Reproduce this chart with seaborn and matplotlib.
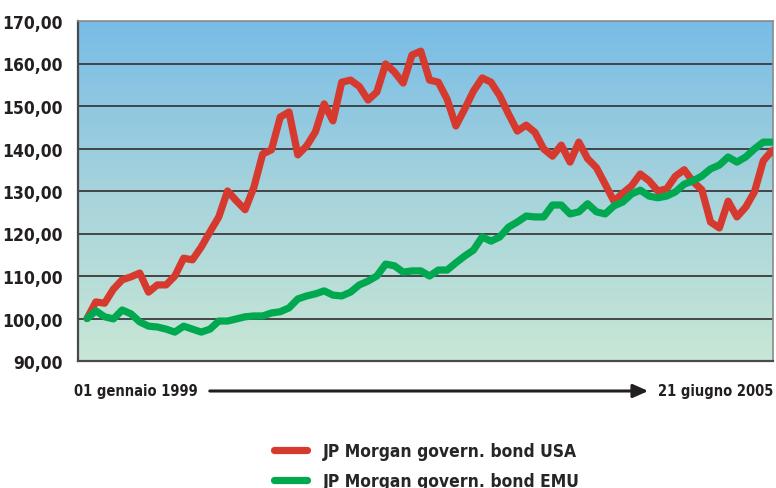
import numpy as np
import pandas as pd
import matplotlib.pyplot as plt
import seaborn as sns
from matplotlib import font_manager
from matplotlib.colors import LinearSegmentedColormap

# valori indice (base 100 = 01/01/1999), uno al mese
usa = [100.0, 103.9, 103.6, 106.9, 109.1, 109.8, 110.7, 106.2, 107.9, 107.9,
       110.0, 114.2, 113.8, 116.8, 120.4, 123.9, 130.0, 127.7, 125.6, 130.9,
       138.7, 139.7, 147.4, 148.6, 138.5, 140.6, 143.9, 150.5, 146.5, 155.6,
       156.1, 154.6, 151.4, 153.3, 159.9, 158.0, 155.4, 162.0, 162.9, 156.1,
       155.6, 151.6, 145.3, 149.3, 153.5, 156.6, 155.6, 152.4, 148.1, 144.1,
       145.5, 143.8, 139.9, 138.2, 140.8, 136.8, 141.5, 137.6, 135.5, 131.6,
       127.6, 129.5, 131.2, 134.0, 132.4, 130.0, 130.5, 133.5, 135.0, 132.2,
       130.3, 122.7, 121.3, 127.6, 123.9, 126.2, 129.8, 137.1, 139.5]
emu = [100.0, 101.8, 100.4, 99.9, 102.0, 101.1, 99.2, 98.2, 98.0, 97.5,
       96.8, 98.2, 97.5, 96.8, 97.5, 99.4, 99.4, 99.9, 100.4, 100.6,
       100.6, 101.3, 101.6, 102.5, 104.6, 105.3, 105.8, 106.5, 105.5, 105.3,
       106.2, 107.9, 108.8, 110.0, 112.8, 112.4, 110.9, 111.2, 111.2, 110.0,
       111.4, 111.4, 113.1, 114.7, 116.1, 119.2, 118.2, 119.2, 121.5, 122.7,
       124.1, 123.9, 123.9, 126.7, 126.7, 124.6, 125.1, 127.0, 125.1, 124.6,
       126.5, 127.4, 129.3, 130.2, 128.8, 128.4, 128.8, 129.8, 131.6, 132.4,
       133.5, 135.2, 136.1, 138.0, 136.8, 138.0, 139.9, 141.5, 141.5]
serie = ["JP Morgan govern. bond USA", "JP Morgan govern. bond EMU"]
colori = ["#d63a2e", "#00a94f"]
yticks = [90, 100, 110, 120, 130, 140, 150, 160, 170]
data_inizio = "01 gennaio 1999"
data_fine = "21 giugno 2005"

mesi = np.arange(len(usa))
df = pd.DataFrame({
    "mese": np.concatenate([mesi, mesi]),
    "valore": usa + emu,
    "serie": [serie[0]] * len(usa) + [serie[1]] * len(emu),
})

sns.set_style("white")

# font stretto se c'e', altrimenti DejaVu piu' piccolo
narrow = [f for f in font_manager.fontManager.ttflist
          if f.stretch in ("condensed", "semi-condensed", "extra-condensed")
          or "Narrow" in f.name or "Condensed" in f.name]
if narrow:
    plt.rcParams['font.family'] = [narrow[0].name, 'DejaVu Sans']
    plt.rcParams['font.stretch'] = 'condensed'
    k = 1.0
else:
    plt.rcParams['font.family'] = ['DejaVu Sans']
    k = 0.82
fs_tick = 12.5 * k
fs_date = 10.5 * k
fs_leg = 12.5 * k

fig = plt.figure(figsize=(7.76, 4.89), dpi=100)
ax = fig.add_axes([78 / 776, 1 - 362 / 489, 695 / 776, 340 / 489])

# sfondo sfumato azzurro -> verde chiaro
cmap = LinearSegmentedColormap.from_list("sfondo", ["#c8e7d5", "#a6d3dc", "#78bce6"])
grad = np.linspace(0, 1, 256).reshape(-1, 1)
ax.imshow(grad, aspect="auto", cmap=cmap, origin="lower",
          extent=[-1.03, 78.11, 90, 170], zorder=0)

sns.lineplot(data=df, x="mese", y="valore", hue="serie", palette=colori,
             linewidth=5.2, ax=ax, zorder=3, legend=True)
for l in ax.get_lines():
    l.set_solid_capstyle("round")
    l.set_solid_joinstyle("round")

ax.set_xlim(-1.03, 78.11)
ax.set_ylim(90, 170)
ax.set_yticks(yticks)
ax.set_yticklabels([f"{v:.2f}".replace(".", ",") for v in yticks])
ax.set_xticks([])
ax.set_xlabel("")
ax.set_ylabel("")
ax.tick_params(axis="y", length=0, pad=11, labelsize=fs_tick, colors="#231f20")
for lab in ax.get_yticklabels():
    lab.set_fontweight("bold")
ax.grid(False)
for v in yticks[1:-1]:
    ax.axhline(v, color="#3a3a3a", linewidth=1.3, zorder=1)
for s in ["left", "bottom"]:
    ax.spines[s].set_color("#4a4a4a")
    ax.spines[s].set_linewidth(1.6)
for s in ["right", "top"]:
    ax.spines[s].set_color("#8a8a8a")
    ax.spines[s].set_linewidth(1.2)

# asse temporale con freccia
fig.text(74 / 776, 1 - 392 / 489, data_inizio, ha="left", va="center",
         fontsize=fs_date, fontweight="bold", color="#231f20")
fig.text(773 / 776, 1 - 392 / 489, data_fine, ha="right", va="center",
         fontsize=fs_date, fontweight="bold", color="#231f20")
ax.annotate("", xy=(651 / 776, 1 - 392 / 489), xytext=(207 / 776, 1 - 392 / 489),
            xycoords="figure fraction", textcoords="figure fraction",
            arrowprops=dict(arrowstyle="-|>,head_length=0.9,head_width=0.4",
                            color="#231f20", lw=2.2))

handles, labels = ax.get_legend_handles_labels()
ax.legend(handles, labels, loc="center left", bbox_to_anchor=(274 / 776, 1 - 467 / 489),
          bbox_transform=fig.transFigure, frameon=False, borderpad=0, borderaxespad=0,
          handlelength=1.9, handletextpad=0.9, labelspacing=0.7,
          prop={"weight": "bold", "size": fs_leg})

plt.savefig("out.png", dpi=100)
